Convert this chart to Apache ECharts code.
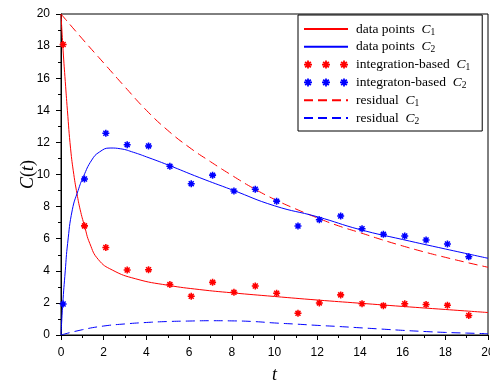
<!DOCTYPE html>
<html>
<head>
<meta charset="utf-8">
<script src="https://cdn.jsdelivr.net/npm/echarts@6/dist/echarts.min.js"></script>
<style>html,body{margin:0;padding:0;background:#fff}#c{width:490px;height:382px}</style>
</head>
<body>
<div id="c"></div>
<script>
// ---- data ----
const xTicks = [0, 2, 4, 6, 8, 10, 12, 14, 16, 18, 20];
const yTicks = [0, 2, 4, 6, 8, 10, 12, 14, 16, 18, 20];

// integration-based points
const ptT  = [0.1, 1.1, 2.1, 3.1, 4.1, 5.1, 6.1, 7.1, 8.1, 9.1, 10.1, 11.1, 12.1, 13.1, 14.1, 15.1, 16.1, 17.1, 18.1, 19.1];
const ptC1 = [18.1, 6.8, 5.45, 4.05, 4.07, 3.14, 2.41, 3.28, 2.66, 3.05, 2.6, 1.35, 2.0, 2.5, 1.95, 1.83, 1.95, 1.9, 1.85, 1.22];
const ptC2 = [1.93, 9.72, 12.57, 11.86, 11.78, 10.51, 9.43, 9.96, 8.97, 9.08, 8.34, 6.79, 7.18, 7.41, 6.62, 6.27, 6.17, 5.92, 5.67, 4.88];

// data points C1 curve
const fitC1T = [0, 0.1, 0.2, 0.3, 0.45, 0.6, 0.75, 0.9, 1.1, 1.35, 1.75, 2.4, 3.5, 5, 6.5, 8, 10, 12, 14, 16, 18, 20];
const fitC1  = [20, 17.7, 15.8, 14.0, 11.6, 10.0, 8.8, 7.8, 6.8, 5.7, 4.7, 4.05, 3.5, 3.1, 2.83, 2.63, 2.4, 2.18, 1.98, 1.78, 1.59, 1.4];

// data points C2 curve
const fitC2T = [0, 0.08, 0.2, 0.31, 0.53, 0.8, 1.05, 1.44, 1.8, 2.3, 2.8, 3.4, 4, 5, 6.5, 8, 10, 12, 14, 16, 18, 20];
const fitC2  = [0, 1.9, 4.0, 5.7, 7.8, 9.0, 9.87, 10.9, 11.4, 11.65, 11.6, 11.38, 11.1, 10.6, 9.8, 9.05, 8.05, 7.37, 6.57, 5.95, 5.36, 4.78];

// residual curves
const resT  = [0, 1, 2, 3, 4, 5, 6, 7, 8, 9, 10, 11, 12, 13, 14, 15, 16, 17, 18, 19, 20];
const resC1 = [20, 18.45, 16.95, 15.45, 14.0, 12.75, 11.7, 10.8, 9.95, 9.15, 8.45, 7.85, 7.3, 6.8, 6.38, 5.95, 5.55, 5.18, 4.84, 4.52, 4.22];
const resC2 = [0, 0.33, 0.56, 0.69, 0.78, 0.84, 0.87, 0.89, 0.88, 0.84, 0.75, 0.68, 0.6, 0.53, 0.45, 0.37, 0.29, 0.22, 0.16, 0.12, 0.08];

const names = ['data points C1', 'data points C2', 'integration-based C1', 'integraton-based C2', 'residual C1', 'residual C2'];

// ---- helpers ----
function pairs(xs, ys) { return xs.map((x, i) => [x, ys[i]]); }
function asterisk(cx, cy, r, w) {
  const d = r * 0.7071, q = w * 0.7071;
  const P = (pts) => 'M' + pts.map(p => p[0].toFixed(2) + ',' + p[1].toFixed(2)).join(' L') + ' Z ';
  return P([[cx - w, cy - r], [cx + w, cy - r], [cx + w, cy + r], [cx - w, cy + r]]) +
         P([[cx - r, cy - w], [cx + r, cy - w], [cx + r, cy + w], [cx - r, cy + w]]) +
         P([[cx - d - q, cy - d + q], [cx - d + q, cy - d - q], [cx + d + q, cy + d - q], [cx + d - q, cy + d + q]]) +
         P([[cx + d - q, cy - d - q], [cx + d + q, cy - d + q], [cx - d + q, cy + d + q], [cx - d - q, cy + d - q]]);
}
const starSym = 'path://' + asterisk(5, 5, 5, 1.1);
const starLegend = 'path://' + asterisk(4, 4, 4, 0.9) + asterisk(22, 4, 4, 0.9) + asterisk(40, 4, 4, 0.9);

const RED = '#ff0000', BLUE = '#0000ff';
const serif = '"Liberation Serif", "DejaVu Serif", serif';
const sans = '"Liberation Sans", Arial, sans-serif';

const chart = echarts.init(document.getElementById('c'), null, { renderer: 'canvas' });

const legendRich = {
  n: { fontFamily: serif, fontSize: 13.5, color: '#000', lineHeight: 16 },
  i: { fontFamily: serif, fontSize: 13.5, fontStyle: 'italic', color: '#000', lineHeight: 16 },
  s: { fontFamily: serif, fontSize: 9.5, color: '#000', verticalAlign: 'bottom', padding: [6, 0, 0, 0], lineHeight: 16 }
};
const hideSym = { opacity: 0 };

const option = {
  animation: false,
  backgroundColor: '#fff',
  grid: { left: 61, right: 2, top: 14, bottom: 47, outerBoundsMode: 'none', containLabel: false,
          show: true, borderColor: '#000', borderWidth: 1, backgroundColor: 'transparent' },
  xAxis: {
    type: 'value', min: 0, max: 20, interval: 2,
    name: 't', nameLocation: 'middle', nameGap: 31, nameMoveOverlap: false,
    nameTextStyle: { fontFamily: serif, fontStyle: 'italic', fontSize: 18, color: '#000' },
    axisLine: { show: true, onZero: false, lineStyle: { color: '#000', width: 1 } },
    axisTick: { show: true, inside: false, length: 5, lineStyle: { color: '#000' } },
    minorTick: { show: true, splitNumber: 2, length: 3, lineStyle: { color: '#000' } },
    splitLine: { show: false },
    axisLabel: { fontFamily: sans, fontSize: 12, color: '#000', margin: 12, hideOverlap: false,
      formatter: v => xTicks.includes(v) ? String(v) : '' }
  },
  yAxis: {
    type: 'value', min: 0, max: 20, interval: 2,
    name: '{i|C}{n|(}{i|t}{n|)}', nameLocation: 'middle', nameGap: 24, nameRotate: 90, nameMoveOverlap: false,
    nameTextStyle: { rich: {
      i: { fontFamily: serif, fontStyle: 'italic', fontSize: 18, color: '#000' },
      n: { fontFamily: serif, fontSize: 18, color: '#000' } } },
    axisLine: { show: true, onZero: false, lineStyle: { color: '#000', width: 1 } },
    axisTick: { show: true, inside: false, length: 5, lineStyle: { color: '#000' } },
    minorTick: { show: true, splitNumber: 2, length: 3, lineStyle: { color: '#000' } },
    splitLine: { show: false },
    axisLabel: { fontFamily: sans, fontSize: 12, color: '#000', margin: 11,
      formatter: v => yTicks.includes(v) ? String(v) : '' }
  },
  legend: {
    orient: 'vertical', left: 298, top: 15,
    backgroundColor: '#fff', borderColor: '#000', borderWidth: 1,
    padding: [6, 12, 5, 5], itemGap: 1.8, itemWidth: 44, itemHeight: 10,
    symbolKeepAspect: true,
    data: [
      { name: names[0], itemStyle: hideSym }, { name: names[1], itemStyle: hideSym },
      { name: names[2], icon: starLegend }, { name: names[3], icon: starLegend },
      { name: names[4], itemStyle: hideSym }, { name: names[5], itemStyle: hideSym }
    ],
    formatter: function (nm) {
      const k = nm.slice(-1);
      return '{n|' + nm.slice(0, -2) + ' }{i|C}{s|' + k + '}';
    },
    textStyle: { rich: legendRich, padding: [0, 0, 0, 3] }
  },
  series: [
    { name: names[0], type: 'line', data: pairs(fitC1T, fitC1), symbol: 'none', smooth: true,
      lineStyle: { color: RED, width: 1 }, itemStyle: { color: RED }, z: 3 },
    { name: names[1], type: 'line', data: pairs(fitC2T, fitC2), symbol: 'none', smooth: true,
      lineStyle: { color: BLUE, width: 1 }, itemStyle: { color: BLUE }, z: 3 },
    { name: names[2], type: 'scatter', data: pairs(ptT, ptC1), symbol: starSym, symbolSize: 7,
      itemStyle: { color: RED, opacity: 1 }, z: 4 },
    { name: names[3], type: 'scatter', data: pairs(ptT, ptC2), symbol: starSym, symbolSize: 7,
      itemStyle: { color: BLUE, opacity: 1 }, z: 4 },
    { name: names[4], type: 'line', data: pairs(resT, resC1), symbol: 'none', smooth: true,
      lineStyle: { color: RED, width: 1, type: [9, 5] }, itemStyle: { color: RED }, z: 2 },
    { name: names[5], type: 'line', data: pairs(resT, resC2), symbol: 'none', smooth: true,
      lineStyle: { color: BLUE, width: 1, type: [9, 5] }, itemStyle: { color: BLUE }, z: 2 }
  ]
};
chart.setOption(option);
</script>
</body>
</html>
